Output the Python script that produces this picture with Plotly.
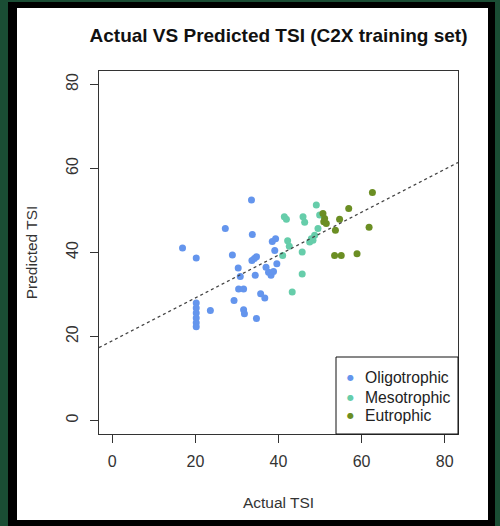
import plotly.graph_objects as go

# ---- data ----
oligo_x = [16.9, 20.2, 20.2, 20.2, 20.2, 20.2, 20.2, 20.2, 23.6, 27.2, 28.9, 29.3, 30.3, 30.4,
           30.8, 31.6, 31.6, 31.8, 33.5, 33.7, 33.6, 34.2, 34.7, 34.4, 34.7, 35.7, 36.7, 37.0,
           37.6, 38.2, 38.8, 38.5, 39.3, 39.1, 39.6]
oligo_y = [41.1, 38.7, 28.0, 26.8, 25.6, 24.4, 23.3, 22.3, 26.2, 45.7, 39.4, 28.6, 36.3, 31.3,
           34.3, 31.3, 26.4, 25.4, 52.5, 44.3, 38.1, 38.6, 39.0, 34.6, 24.3, 30.2, 29.2, 36.5,
           35.3, 34.6, 35.5, 42.6, 43.3, 40.5, 37.3]

meso_x = [41.0, 41.4, 41.9, 42.2, 42.6, 43.3, 45.7, 45.7, 45.9, 46.3, 47.5, 47.9, 48.3, 48.7,
          49.1, 49.9, 49.5]
meso_y = [39.3, 48.5, 47.9, 42.8, 41.5, 30.6, 40.1, 34.9, 48.5, 47.2, 42.5, 43.3, 42.9, 44.1,
          51.3, 48.9, 45.7]

eu_x = [50.7, 51.1, 50.9, 51.5, 53.7, 54.7, 56.9, 62.6, 61.8, 53.5, 55.1, 58.9]
eu_y = [49.3, 48.1, 47.3, 46.9, 45.3, 47.9, 50.5, 54.3, 46.0, 39.3, 39.3, 39.7]

series_names = ["Oligotrophic", "Mesotrophic", "Eutrophic"]
series_colors = ["#6495ED", "#66CDAA", "#6B8E23"]

# fitted line (abline)
INTERCEPT = 19.0
SLOPE = 0.51

tick_vals = [0, 20, 40, 60, 80]
axis_lim = [0, 80]
pad = 0.04 * (axis_lim[1] - axis_lim[0])
rng = [axis_lim[0] - pad, axis_lim[1] + pad]

FONT = "Liberation Sans, Arial, sans-serif"
TXT = "#333333"

fig = go.Figure()

for name, xs, ys, col in zip(series_names, [oligo_x, meso_x, eu_x], [oligo_y, meso_y, eu_y], series_colors):
    fig.add_trace(go.Scatter(x=xs, y=ys, mode="markers", name=name, showlegend=False,
                             marker=dict(color=col, size=7, line=dict(width=0))))

line_x = rng
line_y = [INTERCEPT + SLOPE * v for v in line_x]
fig.add_trace(go.Scatter(x=line_x, y=line_y, mode="lines", showlegend=False,
                         line=dict(color="#444444", width=1.3, dash="dot"), hoverinfo="skip"))

# pixel -> paper coordinate helpers (plot box in pixels)
L, R, T, B = 99, 458, 71, 434
W, H = 500, 526
def px(x):
    return (x - L) / (R - L)
def py(y):
    return (B - y) / (B - T)

shapes = [
    dict(type="rect", xref="paper", yref="paper", x0=px(8), x1=px(495), y0=py(530), y1=py(2),
         fillcolor="#000000", line=dict(width=0), layer="below"),
    dict(type="rect", xref="paper", yref="paper", x0=px(17), x1=px(488), y0=py(520), y1=py(8),
         fillcolor="#ffffff", line=dict(width=0), layer="below"),
    # legend box
    dict(type="rect", xref="paper", yref="paper", x0=px(336), x1=1, y0=0, y1=py(357),
         fillcolor="#ffffff", line=dict(color="#111111", width=1), layer="above"),
]

annotations = []
legend_rows = [377, 397, 415]
for name, col, yy in zip(series_names, series_colors, legend_rows):
    annotations.append(dict(text="●", xref="paper", yref="paper", x=px(350), y=py(yy),
                            xanchor="center", yanchor="middle", showarrow=False,
                            font=dict(family="DejaVu Sans", size=8, color=col)))
    annotations.append(dict(text=name, xref="paper", yref="paper", x=px(363), y=py(yy),
                            xanchor="left", yanchor="middle", showarrow=False,
                            font=dict(family=FONT, size=15.7, color="#222222")))

axis_common = dict(range=rng, tickvals=tick_vals, showgrid=False, zeroline=False,
                   showline=True, mirror=True, linecolor="#333333", linewidth=1,
                   ticks="outside", ticklen=8, tickcolor="#333333", tickwidth=1,
                   tickfont=dict(family=FONT, size=16, color=TXT),
                   fixedrange=True)

fig.update_layout(
    width=W, height=H,
    margin=dict(l=L, r=W - R, t=T, b=H - B),
    paper_bgcolor="#1a4d34",
    plot_bgcolor="#ffffff",
    shapes=shapes,
    annotations=annotations,
    title=dict(text="<b>Actual VS Predicted TSI (C2X training set)</b>",
               x=px(278.5), xref="paper", xanchor="center",
               y=1 - 35 / H, yref="container", yanchor="middle",
               font=dict(family=FONT, size=19, color="#111111")),
    xaxis=dict(**axis_common,
               title=dict(text="Actual TSI", font=dict(family=FONT, size=15.5, color=TXT), standoff=27),
               ticklabelstandoff=5),
    yaxis=dict(**axis_common, tickangle=-90,
               title=dict(text="Predicted TSI", font=dict(family=FONT, size=15.5, color=TXT), standoff=22),
               ticklabelstandoff=6),
    showlegend=False,
)

fig.write_html("out.html", config={"displayModeBar": False},
               post_script="document.body.style.margin='0';document.body.style.overflow='hidden';")
